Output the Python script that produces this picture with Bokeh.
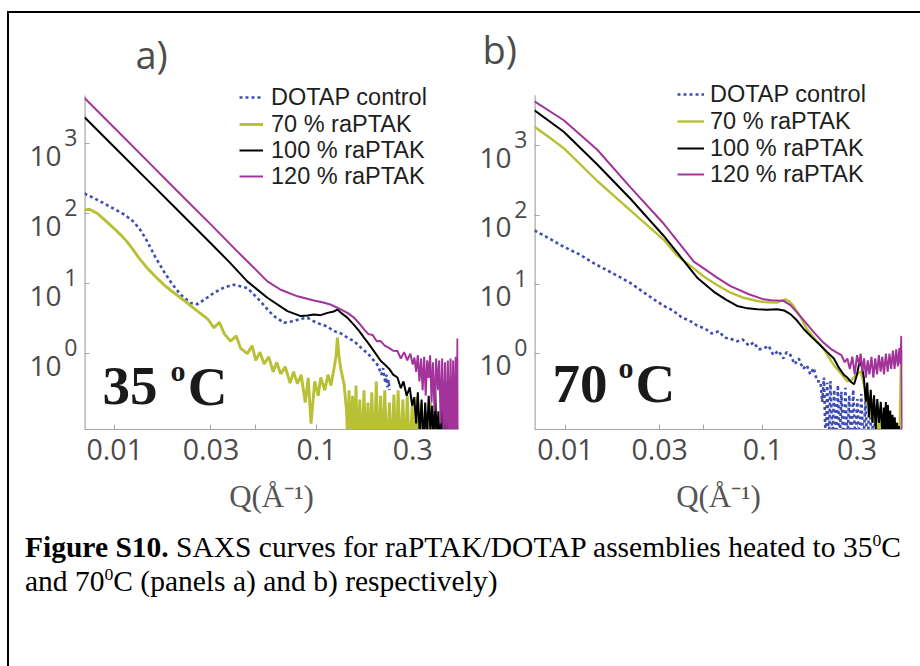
from bokeh.plotting import figure
from bokeh.models import Range1d, LogScale, LogAxis, FixedTicker, Legend, LegendItem, Label, Div
from bokeh.layouts import row, column
from bokeh.embed import file_html
from bokeh.resources import INLINE
import math

# ---------------- data ----------------
SERIES_NAMES = ["DOTAP control", "70 % raPTAK", "100 % raPTAK", "120 % raPTAK"]
X_TICKS = [0.01, 0.03, 0.05, 0.1, 0.3]
X_TICK_LABELS = ["0.01", "0.03", "", "0.1", "0.3"]
Y_TICKS = [1, 10, 100, 1000]
Y_TICK_BASE = ["10", "10", "10", "10"]
Y_TICK_EXP = ["0", "1", "2", "3"]
PANEL_TAGS = ["a)", "b)"]
PANEL_TEMPS = ["35", "70"]
X_LABEL = "Q(Å⁻¹)"

# panel a) 35 C
QA_DOTAP = [0.00708, 0.0085, 0.0099, 0.0112, 0.0124, 0.0135, 0.0145, 0.0159, 0.0175, 0.0193,
            0.0212, 0.0238, 0.0257, 0.028, 0.031, 0.035, 0.039, 0.0454, 0.0528, 0.0575,
            0.0616, 0.069, 0.0774, 0.0835, 0.0902, 0.097, 0.105, 0.113, 0.122, 0.132,
            0.1426, 0.154, 0.166, 0.18, 0.193, 0.2, 0.205, 0.21, 0.214, 0.217,
            0.22, 0.222, 0.225, 0.228, 0.23]
IA_DOTAP = [195, 150, 118, 97, 77, 57, 40, 24, 15, 9.8,
            7.0, 5.3, 5.1, 6.0, 7.4, 8.9, 9.7, 8.7, 5.6, 4.2,
            3.44, 2.76, 2.92, 3.15, 3.25, 2.9, 2.62, 2.45, 2.1, 1.95,
            1.69, 1.5, 1.22, 1.0, 0.79, 0.7, 0.6, 0.5, 0.62, 0.456,
            0.38, 0.5, 0.33, 0.42, 0.3]

QA_70 = [0.00708, 0.0075, 0.0082, 0.009, 0.0099, 0.0107, 0.0115, 0.0123, 0.0132, 0.0145,
         0.016, 0.0175, 0.0192, 0.0212, 0.0235, 0.0257, 0.0275, 0.029, 0.031, 0.033,
         0.035, 0.0375, 0.04, 0.042, 0.0454, 0.048, 0.05, 0.0525, 0.055, 0.058,
         0.061, 0.0635, 0.0665, 0.07, 0.074, 0.077, 0.0805, 0.084, 0.088, 0.091,
         0.094, 0.098, 0.102, 0.105, 0.11, 0.114, 0.118, 0.122, 0.125, 0.127,
         0.1295, 0.132, 0.137, 0.141, 0.143,
         0.145, 0.148, 0.151, 0.154, 0.157, 0.16, 0.164, 0.168, 0.172, 0.176,
         0.18, 0.184, 0.188, 0.193, 0.198, 0.203, 0.208, 0.213, 0.218, 0.224,
         0.23, 0.236, 0.242, 0.248, 0.254, 0.261, 0.268, 0.275, 0.282, 0.29,
         0.298, 0.306, 0.314, 0.322, 0.331, 0.34, 0.349, 0.358, 0.368, 0.378,
         0.388, 0.398]
IA_70 = [113, 116, 101, 80, 62, 50, 40, 31, 23.2, 16.7,
         12.5, 9.7, 7.8, 6.3, 5.0, 4.05, 3.5, 3.1, 2.34, 2.8,
         1.9, 1.51, 1.8, 1.2, 1.0, 1.3, 0.8, 1.05, 0.71, 0.9,
         0.55, 0.75, 0.51, 0.65, 0.38, 0.55, 0.37, 0.5, 0.2, 0.45,
         0.1, 0.4, 0.25, 0.456, 0.3, 0.5, 0.35, 0.6, 0.9, 1.69,
         0.9, 0.6, 0.37, 0.15, 0.05,
         0.3, 0.03, 0.25, 0.03, 0.35, 0.03, 0.22, 0.03, 0.3, 0.03,
         0.2, 0.03, 0.28, 0.03, 0.4, 0.03, 0.25, 0.03, 0.3, 0.03,
         0.2, 0.03, 0.26, 0.03, 0.3, 0.03, 0.22, 0.03, 0.25, 0.03,
         0.18, 0.03, 0.24, 0.03, 0.2, 0.03, 0.15, 0.03, 0.2, 0.03,
         0.12, 0.03]

QA_100 = [0.00708, 0.01, 0.015, 0.02, 0.03, 0.0368, 0.0454, 0.0571, 0.0718, 0.0836,
          0.0905, 0.0973, 0.105, 0.1135, 0.122, 0.127, 0.1345, 0.1426, 0.155, 0.163,
          0.172, 0.181, 0.19, 0.199, 0.208, 0.218, 0.23, 0.24, 0.252, 0.262,
          0.27, 0.28, 0.29, 0.298, 0.305,
          0.312, 0.318, 0.325, 0.332, 0.339, 0.346, 0.353, 0.36, 0.367, 0.374,
          0.381, 0.388, 0.395, 0.402, 0.41, 0.418, 0.426, 0.434, 0.442, 0.45,
          0.458, 0.466, 0.474, 0.482, 0.49, 0.498, 0.504]
IA_100 = [2400, 890, 277, 121, 37.6, 20.7, 10.8, 6.3, 4.05, 3.44,
          3.5, 3.63, 3.55, 3.83, 4.0, 4.28, 3.7, 3.25, 2.5, 2.1,
          1.69, 1.4, 1.15, 0.95, 0.79, 0.7, 0.6, 0.5, 0.456, 0.32,
          0.4, 0.25, 0.33, 0.18, 0.237,
          0.1, 0.28, 0.07, 0.22, 0.05, 0.2, 0.06, 0.25, 0.08, 0.18,
          0.05, 0.3, 0.05, 0.15, 0.04, 0.17, 0.04, 0.12, 0.04, 0.14,
          0.03, 0.1, 0.03, 0.12, 0.03, 0.09, 0.03]

QA_120 = [0.00708, 0.01, 0.015, 0.02, 0.03, 0.0405, 0.0454, 0.0571, 0.0665, 0.0805,
          0.0973, 0.108, 0.118, 0.132, 0.143, 0.154, 0.163, 0.172, 0.181, 0.19,
          0.199, 0.208, 0.218, 0.23, 0.24, 0.252, 0.262, 0.272, 0.282, 0.292,
          0.3, 0.306,
          0.312, 0.318, 0.324, 0.33, 0.336, 0.342, 0.348, 0.354, 0.36, 0.366,
          0.372, 0.378, 0.385, 0.392, 0.399, 0.406, 0.413, 0.42, 0.427, 0.434,
          0.441, 0.448, 0.455, 0.462, 0.469, 0.476, 0.483, 0.49, 0.496, 0.5, 0.504]
IA_120 = [4530, 1670, 518, 225, 70, 29, 21, 10.8, 8.2, 6.6,
          5.75, 5.4, 5.0, 4.3, 3.8, 3.25, 2.7, 2.22, 1.9, 1.85,
          1.5, 1.51, 1.3, 1.2, 1.1, 1.09, 0.85, 1.05, 0.8, 1.0,
          0.7, 0.88,
          0.55, 0.95, 0.4, 0.85, 0.3, 0.9, 0.25, 0.8, 0.45, 0.95,
          0.2, 0.75, 0.15, 0.85, 0.3, 0.8, 0.1, 0.85, 0.06, 0.75,
          0.05, 0.8, 0.05, 0.85, 0.05, 0.8, 0.05, 0.9, 0.05, 1.65, 0.05]

# panel b) 70 C
QB_DOTAP = [0.00697, 0.0084, 0.0098, 0.0118, 0.0139, 0.0165, 0.019, 0.0213, 0.025, 0.028,
            0.0315, 0.035, 0.039, 0.0425, 0.0465, 0.051, 0.055, 0.06, 0.064, 0.0686,
            0.074, 0.079, 0.085, 0.09, 0.095, 0.101, 0.107, 0.113, 0.12, 0.127,
            0.132, 0.138, 0.145, 0.152, 0.16, 0.167, 0.174, 0.181, 0.188, 0.196,
            0.2, 0.204, 0.208, 0.212, 0.216, 0.22, 0.225, 0.23, 0.235, 0.24,
            0.245, 0.25, 0.256, 0.262, 0.268, 0.274, 0.28, 0.287, 0.294, 0.301,
            0.308, 0.315, 0.323, 0.331, 0.339, 0.347, 0.356, 0.365, 0.374, 0.383, 0.393]
IB_DOTAP = [60, 45, 34.9, 27, 20.2, 15.6, 12.6, 10.5, 7.6, 6.1,
            4.88, 4.2, 3.3, 3.0, 2.53, 2.3, 1.95, 2.1, 1.7, 1.64,
            1.5, 1.6, 1.3, 1.45, 1.15, 1.18, 1.3, 0.95, 1.1, 0.85,
            1.05, 0.95, 0.7, 0.85, 0.6, 0.68, 0.5, 0.62, 0.4, 0.395,
            0.2, 0.45, 0.05, 0.38, 0.04, 0.4, 0.06, 0.3, 0.04, 0.35,
            0.05, 0.28, 0.04, 0.32, 0.05, 0.25, 0.04, 0.3, 0.05, 0.22,
            0.04, 0.26, 0.05, 0.2, 0.04, 0.22, 0.05, 0.18, 0.04, 0.15, 0.04]

QB_70 = [0.00697, 0.0084, 0.0098, 0.0145, 0.0214, 0.0315, 0.0368, 0.0435, 0.0502, 0.0586,
         0.0686, 0.08, 0.0937, 0.105, 0.118, 0.124, 0.13, 0.136, 0.143, 0.155,
         0.167, 0.185, 0.203, 0.215, 0.229, 0.248, 0.268, 0.283, 0.298, 0.313,
         0.322, 0.33, 0.338, 0.345, 0.352, 0.36, 0.368, 0.375, 0.385, 0.395,
         0.4, 0.406, 0.412, 0.418, 0.425, 0.432, 0.44, 0.448, 0.456, 0.465,
         0.474, 0.483, 0.492, 0.5, 0.506]
IB_70 = [1890, 1288, 927, 311, 116, 44, 26, 18, 13, 9.8,
         7.57, 6.4, 5.74, 5.5, 5.45, 5.8, 6.07, 5.7, 4.88, 3.4,
         2.27, 1.6, 1.18, 0.9, 0.68, 0.52, 0.395, 0.42, 0.5, 0.55,
         0.4, 0.3, 0.18, 0.25, 0.12, 0.22, 0.1, 0.18, 0.08, 0.166,
         0.06, 0.14, 0.05, 0.12, 0.04, 0.1, 0.04, 0.09, 0.03, 0.08,
         0.03, 0.1, 0.05, 0.6, 1.1]

QB_100 = [0.00697, 0.0098, 0.0145, 0.0214, 0.0315, 0.0383, 0.0465, 0.0565, 0.065, 0.0741,
          0.0837, 0.0937, 0.105, 0.118, 0.128, 0.138, 0.149, 0.161, 0.178, 0.196,
          0.212, 0.229, 0.243, 0.258, 0.268, 0.278, 0.29, 0.3, 0.307, 0.313,
          0.319, 0.325, 0.332, 0.338, 0.345, 0.352, 0.359, 0.366, 0.373, 0.38,
          0.388, 0.396, 0.404, 0.41,
          0.415, 0.42, 0.425, 0.43, 0.436, 0.442, 0.448, 0.454, 0.46, 0.466,
          0.472, 0.478, 0.484, 0.49, 0.496, 0.502, 0.508]
IB_100 = [3270, 1600, 538, 171, 50, 25, 12.5, 7.8, 6.0, 4.88,
          4.5, 4.38, 4.3, 4.38, 4.2, 3.71, 3.0, 2.27, 1.7, 1.31,
          1.05, 0.85, 0.62, 0.49, 0.45, 0.395, 0.36, 0.5, 0.7, 0.76,
          0.6, 0.45, 0.2, 0.38, 0.12, 0.3, 0.1, 0.25, 0.08, 0.22,
          0.1, 0.2, 0.06, 0.166,
          0.08, 0.2, 0.06, 0.18, 0.05, 0.15, 0.05, 0.13, 0.04, 0.12,
          0.04, 0.1, 0.03, 0.09, 0.03, 0.06, 0.02]

QB_120 = [0.00697, 0.0098, 0.0145, 0.0214, 0.0315, 0.0447, 0.0502, 0.0586, 0.0686, 0.085,
          0.101, 0.11, 0.118, 0.128, 0.138, 0.149, 0.165, 0.181, 0.2, 0.22,
          0.235, 0.25, 0.26, 0.268, 0.276, 0.284, 0.292, 0.3, 0.307, 0.313,
          0.319, 0.326, 0.333, 0.34, 0.347, 0.355, 0.363, 0.371, 0.379, 0.387,
          0.395, 0.403, 0.411, 0.42, 0.429, 0.438, 0.447, 0.456, 0.465, 0.474,
          0.483, 0.492, 0.498, 0.503, 0.508]
IB_120 = [4390, 2350, 880, 250, 75, 21.3, 17, 12.5, 9.4, 7.2,
          6.07, 5.9, 5.85, 5.74, 5.0, 3.93, 2.8, 2.04, 1.5, 1.18,
          1.05, 0.95, 0.75, 0.85, 0.6, 0.9, 0.5, 0.95, 0.7, 1.0,
          0.55, 0.85, 0.45, 0.8, 0.5, 0.9, 0.45, 0.85, 0.5, 0.95,
          0.55, 0.9, 0.5, 1.0, 0.55, 1.0, 0.6, 1.1, 0.6, 1.15,
          0.65, 1.2, 0.7, 1.8, 0.08]

CAPTION_HTML = (
    '<div style="padding:2px 0 0 11px;font-family:\'Liberation Serif\',\'Times New Roman\',serif;'
    'font-size:29.5px;line-height:34px;color:#000;white-space:nowrap">'
    '<b>Figure S10.</b> SAXS curves for raPTAK/DOTAP assemblies heated to 35'
    '<sup style="font-size:0.6em;line-height:0;vertical-align:0.6em">0</sup>C<br>'
    'and 70<sup style="font-size:0.6em;line-height:0;vertical-align:0.6em">0</sup>C '
    '(panels a) and b) respectively)</div>'
)

# ---------------- styling ----------------
SANS = "Open Sans"
LEGEND_FONT = "Liberation Sans"
SERIF = "Liberation Serif"
AXIS_GRAY = "#a6a6a6"
TICK_TEXT = "#4a4a4a"

LINE_STYLE = {
    "DOTAP control": dict(line_color="#3f4db3", line_dash="3 3", line_width=2.6),
    "70 % raPTAK": dict(line_color="#b8c135", line_width=2.4),
    "100 % raPTAK": dict(line_color="#000000", line_width=2.0),
    "120 % raPTAK": dict(line_color="#a2339b", line_width=2.0),
}

FIG_H = 510
PAGE_TOP = 13   # page y of the figures' top edge
TOP = 67        # top border (px) above the frame
LEG_H = 30      # height of one legend row box

PANELS = [
    dict(tag=PANEL_TAGS[0], temp=PANEL_TEMPS[0],
         data={"DOTAP control": (QA_DOTAP, IA_DOTAP), "70 % raPTAK": (QA_70, IA_70),
               "100 % raPTAK": (QA_100, IA_100), "120 % raPTAK": (QA_120, IA_120)},
         width_override={"70 % raPTAK": 2.9},
         xr=(0.00708, 0.506), yr=(0.0822, 7550),
         w=461, frame_h=349, bl=75, br=12,
         toff=51, tstand=6,
         leg_x=155, leg_rows=[97, 123.5, 150, 176.5], glyph_w=24, leg_standoff=8,
         temp_pos=[(0.00869, 0.3415), (0.0189, 0.58), (0.0230, 0.3415)]),
    dict(tag=PANEL_TAGS[1], temp=PANEL_TEMPS[1],
         data={"DOTAP control": (QB_DOTAP, IB_DOTAP), "70 % raPTAK": (QB_70, IB_70),
               "100 % raPTAK": (QB_100, IB_100), "120 % raPTAK": (QB_120, IB_120)},
         width_override={},
         xr=(0.00697, 0.51), yr=(0.080, 8240),
         w=450, frame_h=352, bl=64, br=18,
         toff=-52, tstand=15,
         leg_x=143, leg_rows=[97.5, 124, 150.5, 177], glyph_w=27, leg_standoff=6,
         temp_pos=[(0.00859, 0.3677), (0.01858, 0.625), (0.02265, 0.3677)]),
]


def build_panel(cfg):
    xr, yr = cfg["xr"], cfg["yr"]
    frame_h = cfg["frame_h"]
    bb = FIG_H - TOP - frame_h
    frame_bottom_page = PAGE_TOP + TOP + frame_h
    p = figure(width=cfg["w"], height=FIG_H, x_axis_type="log", y_axis_type="log",
               x_range=Range1d(*xr), y_range=Range1d(*yr),
               output_backend="svg", toolbar_location=None,
               min_border_left=cfg["bl"], min_border_right=cfg["br"],
               min_border_top=TOP, min_border_bottom=bb,
               title=cfg["tag"])
    p.outline_line_color = None
    p.background_fill_color = "white"
    p.border_fill_color = "white"
    p.xgrid.visible = False
    p.ygrid.visible = False

    t = p.title
    t.align = "left"
    t.offset = cfg["toff"]
    t.standoff = cfg["tstand"]
    t.text_font = SANS
    t.text_font_size = "38px"
    t.text_font_style = "normal"
    t.text_color = "#4d4d4d"

    px_per_dec = frame_h / math.log10(yr[1] / yr[0])

    # visible y-axis line: from the bottom up to 13 px below the frame top
    line_top = yr[1] / 10 ** (13.0 / px_per_dec)
    p.segment(x0=[xr[0]], y0=[yr[0]], x1=[xr[0]], y1=[line_top],
              line_color=AXIS_GRAY, line_width=2.4)

    # curves
    renderers = {}
    for name in SERIES_NAMES:
        q, inten = cfg["data"][name]
        style = dict(LINE_STYLE[name])
        if name in cfg["width_override"]:
            style["line_width"] = cfg["width_override"][name]
        renderers[name] = p.line(q, inten, **style)

    # legend: one single-entry legend per row
    for name, yc in zip(SERIES_NAMES, cfg["leg_rows"]):
        leg = Legend(items=[LegendItem(label=name, renderers=[renderers[name]])],
                     location=(cfg["leg_x"], int(round(frame_bottom_page - yc - LEG_H / 2))),
                     padding=0, margin=0, spacing=0,
                     background_fill_alpha=0, border_line_color=None,
                     glyph_width=cfg["glyph_w"], glyph_height=LEG_H, label_height=LEG_H,
                     label_standoff=cfg["leg_standoff"],
                     label_text_font=LEGEND_FONT, label_text_font_size="23.5px",
                     label_text_color="#1e1e1e")
        p.add_layout(leg)

    # x axis
    xa = p.xaxis[0]
    xa.ticker = FixedTicker(ticks=X_TICKS)
    xa.major_label_overrides = dict(zip(X_TICKS, X_TICK_LABELS))
    xa.major_tick_in = 5
    xa.major_tick_out = 0
    xa.minor_tick_line_color = None
    xa.axis_line_color = AXIS_GRAY
    xa.major_tick_line_color = AXIS_GRAY
    xa.major_label_standoff = 9
    xa.major_label_text_font = SANS
    xa.major_label_text_font_size = "28.5px"
    xa.major_label_text_color = TICK_TEXT
    xa.axis_label = X_LABEL
    xa.axis_label_standoff = 16
    xa.axis_label_text_font = SERIF
    xa.axis_label_text_font_size = "31px"
    xa.axis_label_text_font_style = "normal"
    xa.axis_label_text_color = "#555555"

    # y axis: ticks only (line drawn above)
    ya = p.yaxis[0]
    ya.ticker = FixedTicker(ticks=Y_TICKS)
    ya.major_label_overrides = {v: "" for v in Y_TICKS}
    ya.major_label_standoff = 0
    ya.major_tick_in = 5
    ya.major_tick_out = 0
    ya.minor_tick_line_color = None
    ya.axis_line_color = None
    ya.major_tick_line_color = AXIS_GRAY

    # "10" and raised exponent labels drawn by two extra axes on shifted ranges
    f_exp = 10 ** (-6.0 / px_per_dec)
    f_base = 10 ** (12.0 / px_per_dec)
    p.extra_y_ranges = {"exp": Range1d(yr[0] * f_exp, yr[1] * f_exp),
                        "base": Range1d(yr[0] * f_base, yr[1] * f_base)}
    p.extra_y_scales = {"exp": LogScale(), "base": LogScale()}
    common = dict(ticker=FixedTicker(ticks=Y_TICKS), axis_line_color=None,
                  major_tick_line_color=None, minor_tick_line_color=None,
                  major_tick_in=0, major_tick_out=0, major_label_text_font=SANS,
                  major_label_text_color=TICK_TEXT)
    exp_ax = LogAxis(y_range_name="exp", major_label_overrides=dict(zip(Y_TICKS, Y_TICK_EXP)),
                     major_label_standoff=7, major_label_text_font_size="23px", **common)
    base_ax = LogAxis(y_range_name="base", major_label_overrides=dict(zip(Y_TICKS, Y_TICK_BASE)),
                      major_label_standoff=0, major_label_text_font_size="28px", **common)
    p.add_layout(exp_ax, "left")
    p.add_layout(base_ax, "left")

    # temperature tag
    texts = [cfg["temp"], "o", "C"]
    sizes = ["55px", "30px", "55px"]
    for txt, (xq, yi), sz in zip(texts, cfg["temp_pos"], sizes):
        p.add_layout(Label(x=xq, y=yi, text=txt, text_font=SERIF, text_font_size=sz,
                           text_font_style="bold", text_color="#1a1a1a",
                           text_baseline="middle", text_align="left"))
    return p


pa = build_panel(PANELS[0])
pb = build_panel(PANELS[1])
cap = Div(text=CAPTION_HTML, width=911, height=138)

layout = column(row(pa, pb), cap,
                styles={"border-left": "2px solid #000", "border-top": "2px solid #000"},
                margin=(11, 0, 0, 7))

open("out.html", "w").write(file_html(layout, INLINE))
